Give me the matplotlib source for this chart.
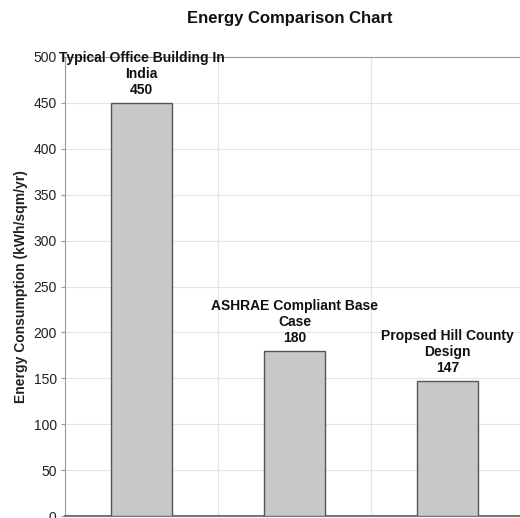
import numpy as np
import matplotlib.pyplot as plt

plt.rcParams['font.family'] = ['Liberation Sans', 'DejaVu Sans']

# =====================
# data
# =====================
categories = ["Typical Office Building In\nIndia",
              "ASHRAE Compliant Base\nCase",
              "Propsed Hill County\nDesign"]
values = [450, 180, 147]
yticks = [0, 50, 100, 150, 200, 250, 300, 350, 400, 450, 500]

# =====================
# figure
# =====================
fig = plt.figure(figsize=(5.2, 5.18), dpi=100)
W, H = 520, 518
ax = fig.add_axes([65 / W, 2 / H, (524 - 65) / W, (516 - 57) / H])

x = np.arange(len(values))
ax.bar(x, values, width=0.4, color="#c8c8c8", edgecolor="#555555",
       linewidth=1.0, zorder=3)

for xi, v, name in zip(x, values, categories):
    ax.annotate(f"{name}\n{v}", (xi, v), xytext=(0, 4),
                textcoords="offset points", ha="center", va="bottom",
                fontsize=10, fontweight="bold", linespacing=1.2,
                color="#111111", zorder=5, annotation_clip=False)

ax.set_xlim(-0.5, len(values) - 0.5)
ax.set_ylim(0, 500)
ax.set_yticks(yticks)
ax.set_xticks([])

# grid lines: horizontal every 50, vertical on category borders
for yv in yticks[1:]:
    ax.axhline(yv, color="#e4e4e4", linewidth=0.8, zorder=1)
for b in np.arange(0.5, len(values) - 0.5, 1.0):
    ax.axvline(b, color="#e4e4e4", linewidth=0.8, zorder=1)

for s in ["left", "top"]:
    ax.spines[s].set_color("#999999")
    ax.spines[s].set_linewidth(0.8)
ax.spines["right"].set_visible(False)
ax.spines["bottom"].set_color("#777777")
ax.spines["bottom"].set_linewidth(1.5)

ax.tick_params(axis="y", labelsize=10, colors="#999999", labelcolor="#222222",
               length=3, width=0.8, pad=3)

ax.set_ylabel("Energy Consumption (kWh/sqm/yr)", fontsize=10,
              fontweight="bold", color="#222222", labelpad=4)
fig.text(290 / W, 1 - 18 / H, "Energy Comparison Chart",
         ha="center", va="center", fontsize=12, fontweight="bold",
         color="#111111")

plt.savefig("out.png", dpi=100)
